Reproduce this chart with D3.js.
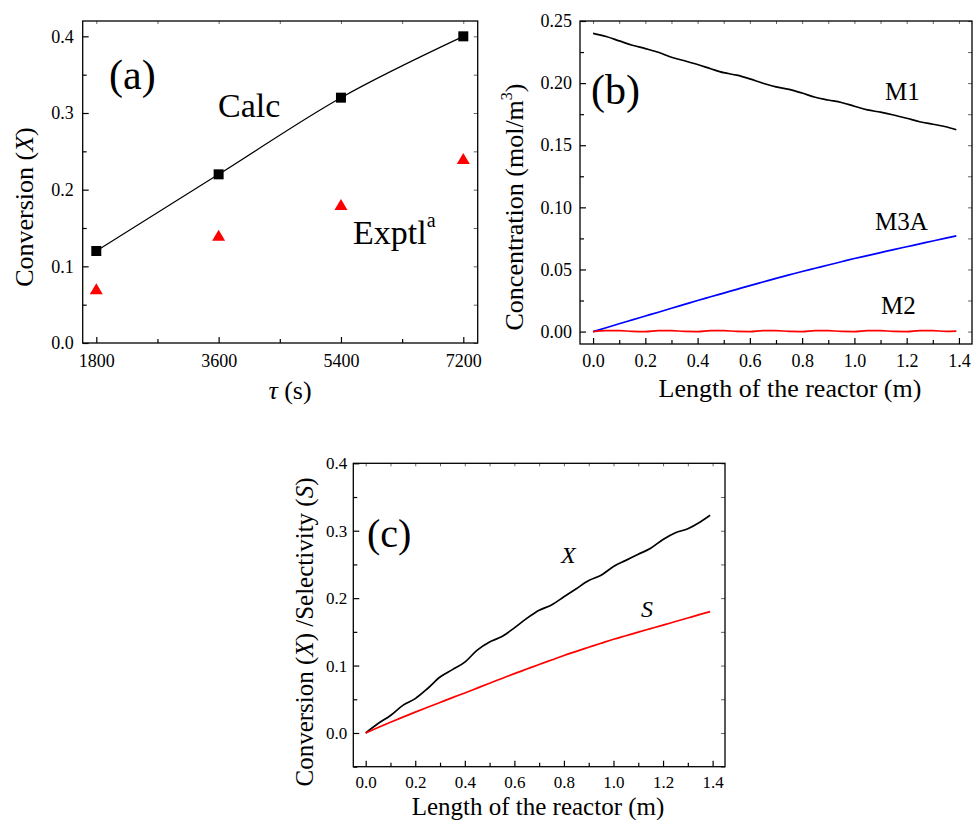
<!DOCTYPE html>
<html>
<head>
<meta charset="utf-8">
<script src="https://cdn.jsdelivr.net/npm/d3@7"></script>
<style>
  body { margin: 0; background: #fff; }
  svg { display: block; }
  text { font-family: "Liberation Serif", "Times New Roman", serif; fill: #000; }
</style>
</head>
<body>
<svg id="chart" width="974" height="820"></svg>
<script>
// ---------- Data ----------
// Panel (a)
const tauValues = [1800, 3600, 5400, 7200];
const calcConversion = [0.12, 0.22, 0.32, 0.40];
const exptlConversion = [0.07, 0.14, 0.18, 0.24];
const aXTicks = [1800, 3600, 5400, 7200];
const aXMinorTicks = [2700, 4500, 6300];
const aYTicks = [0.0, 0.1, 0.2, 0.3, 0.4];
const aYMinorTicks = [0.05, 0.15, 0.25, 0.35];

// Panel (b)
const bLength = [0, 0.05, 0.1, 0.15, 0.2, 0.25, 0.3, 0.35, 0.4, 0.45, 0.5, 0.55, 0.6, 0.65, 0.7, 0.75, 0.8, 0.85, 0.9, 0.95, 1.0, 1.05, 1.1, 1.15, 1.2, 1.25, 1.3, 1.35, 1.39];
const bM1 = [0.2400, 0.2375, 0.2340, 0.2305, 0.2278, 0.2248, 0.2208, 0.2180, 0.2150, 0.2116, 0.2084, 0.2064, 0.2034, 0.1999, 0.1970, 0.1950, 0.1920, 0.1886, 0.1864, 0.1844, 0.1814, 0.1784, 0.1766, 0.1743, 0.1717, 0.1689, 0.1669, 0.1649, 0.1625];
const bM3A = [0.0, 0.0031, 0.0063, 0.0094, 0.0125, 0.0156, 0.0188, 0.0219, 0.0250, 0.0280, 0.0310, 0.0340, 0.0370, 0.0399, 0.0428, 0.0456, 0.0484, 0.0510, 0.0536, 0.0562, 0.0588, 0.0612, 0.0636, 0.0660, 0.0683, 0.0706, 0.0729, 0.0752, 0.0770];
const bM2 = [0.0, 0.0008, 0.0008, 0.0002, 0.0, 0.0008, 0.0008, 0.0001, 0.0, 0.0008, 0.0008, 0.0001, 0.0, 0.0008, 0.0008, 0.0001, 0.0, 0.0008, 0.0008, 0.0001, 0.0, 0.0008, 0.0008, 0.0001, 0.0, 0.0008, 0.0008, 0.0001, 0.0004];
const bXTicks = [0.0, 0.2, 0.4, 0.6, 0.8, 1.0, 1.2, 1.4];
const bXMinorTicks = [0.1, 0.3, 0.5, 0.7, 0.9, 1.1, 1.3];
const bYTicks = [0.00, 0.05, 0.10, 0.15, 0.20, 0.25];
const bYMinorTicks = [0.025, 0.075, 0.125, 0.175, 0.225];

// Panel (c)
const cLength = [0, 0.05, 0.1, 0.15, 0.2, 0.25, 0.3, 0.35, 0.4, 0.45, 0.5, 0.55, 0.6, 0.65, 0.7, 0.75, 0.8, 0.85, 0.9, 0.95, 1.0, 1.05, 1.1, 1.15, 1.2, 1.25, 1.3, 1.35, 1.39];
const cConversionX = [0.0, 0.014, 0.026, 0.041, 0.051, 0.066, 0.083, 0.094, 0.105, 0.123, 0.135, 0.143, 0.156, 0.170, 0.182, 0.190, 0.202, 0.214, 0.226, 0.234, 0.247, 0.256, 0.265, 0.274, 0.287, 0.297, 0.303, 0.313, 0.323];
const cSelectivityS = [0.0, 0.0080, 0.0158, 0.0235, 0.0310, 0.0382, 0.0453, 0.0524, 0.0594, 0.0666, 0.0738, 0.0809, 0.0880, 0.0948, 0.1016, 0.1083, 0.1150, 0.1211, 0.1271, 0.1331, 0.1390, 0.1443, 0.1496, 0.1548, 0.1600, 0.1653, 0.1706, 0.1759, 0.1800];
const cXTicks = [0.0, 0.2, 0.4, 0.6, 0.8, 1.0, 1.2, 1.4];
const cXMinorTicks = [0.1, 0.3, 0.5, 0.7, 0.9, 1.1, 1.3];
const cYTicks = [0.0, 0.1, 0.2, 0.3, 0.4];
const cYMinorTicks = [-0.05, 0.05, 0.15, 0.25, 0.35];

// ---------- Drawing ----------
const svg = d3.select("#chart");

function drawFrame(p) {
  const g = svg.append("g");
  const x = d3.scaleLinear().domain(p.xDomain).range([p.left, p.right]);
  const y = d3.scaleLinear().domain(p.yDomain).range([p.bottom, p.top]);

  g.append("g").attr("transform", `translate(0,${p.bottom})`)
    .call(d3.axisBottom(x).tickValues(p.xTicks).tickFormat(p.xFormat)
      .tickSizeInner(-6).tickSizeOuter(0).tickPadding(p.xPad));
  g.append("g").attr("transform", `translate(0,${p.bottom})`)
    .call(d3.axisBottom(x).tickValues(p.xMinor).tickFormat("")
      .tickSizeInner(-4).tickSizeOuter(0));
  g.append("g").attr("transform", `translate(${p.left},0)`)
    .call(d3.axisLeft(y).tickValues(p.yTicks).tickFormat(p.yFormat)
      .tickSizeInner(-6).tickSizeOuter(0).tickPadding(p.yPad));
  g.append("g").attr("transform", `translate(${p.left},0)`)
    .call(d3.axisLeft(y).tickValues(p.yMinor).tickFormat("")
      .tickSizeInner(-4).tickSizeOuter(0));
  g.append("g").attr("class", "mirror").attr("transform", `translate(0,${p.top})`)
    .call(d3.axisTop(x).tickValues(p.xTicks.concat(p.xMinor)).tickFormat("")
      .tickSizeInner(-3).tickSizeOuter(0));
  g.append("g").attr("class", "mirror").attr("transform", `translate(${p.right},0)`)
    .call(d3.axisRight(y).tickValues(p.yTicks.concat(p.yMinor)).tickFormat("")
      .tickSizeInner(-4).tickSizeOuter(0));

  g.selectAll(".domain").remove();
  g.selectAll(".tick line").attr("stroke", "#000").attr("stroke-width", 1.2);
  g.selectAll(".mirror .tick line").attr("stroke", "#666").attr("stroke-width", 1);
  g.selectAll(".tick text").attr("font-family", "Liberation Serif").attr("font-size", p.tickFont).attr("fill", "#000");

  g.append("rect").attr("x", p.left).attr("y", p.top)
    .attr("width", p.right - p.left).attr("height", p.bottom - p.top)
    .attr("fill", "none").attr("stroke", "#000").attr("stroke-width", 1.3);
  return { g, x, y };
}

// ---- Panel (a)
const A = drawFrame({
  left: 82.7, right: 477.7, top: 21, bottom: 343,
  xDomain: [1600, 7412], yDomain: [0, 0.42],
  xTicks: aXTicks, xMinor: aXMinorTicks, yTicks: aYTicks, yMinor: aYMinorTicks,
  xFormat: d3.format("d"), yFormat: d3.format(".1f"),
  xPad: 11, yPad: 9, tickFont: 18
});
A.g.append("path").datum(tauValues.map((t, i) => [t, calcConversion[i]]))
  .attr("fill", "none").attr("stroke", "#000").attr("stroke-width", 1.2)
  .attr("d", d3.line().x(d => A.x(d[0])).y(d => A.y(d[1])).curve(d3.curveMonotoneX));
A.g.selectAll(".sq").data(tauValues.map((t, i) => [t, calcConversion[i]])).enter()
  .append("rect").attr("x", d => A.x(d[0]) - 5).attr("y", d => A.y(d[1]) - 5)
  .attr("width", 10).attr("height", 10).attr("fill", "#000");
A.g.selectAll(".tri").data(tauValues.map((t, i) => [t, exptlConversion[i]])).enter()
  .append("path")
  .attr("transform", d => `translate(${A.x(d[0])},${A.y(d[1])})`)
  .attr("d", "M0,-6 L6.5,5 L-6.5,5 Z").attr("fill", "#ff0000");
A.g.append("text").attr("x", 109).attr("y", 89).attr("font-size", 42).text("(a)");
A.g.append("text").attr("x", 218).attr("y", 117).attr("font-size", 34).text("Calc");
const ex = A.g.append("text").attr("x", 353).attr("y", 244).attr("font-size", 34);
ex.append("tspan").text("Exptl");
ex.append("tspan").attr("font-size", 20).attr("dy", -17).text("a");
const aYT = A.g.append("text").attr("transform", "translate(33,207) rotate(-90)")
  .attr("text-anchor", "middle").attr("font-size", 26);
aYT.append("tspan").text("Conversion (");
aYT.append("tspan").attr("font-style", "italic").text("X");
aYT.append("tspan").text(")");
const aXT = A.g.append("text").attr("x", 290).attr("y", 399)
  .attr("text-anchor", "middle").attr("font-size", 26);
aXT.append("tspan").attr("font-style", "italic").text("τ");
aXT.append("tspan").text(" (s)");

// ---- Panel (b)
const B = drawFrame({
  left: 580, right: 972, top: 21, bottom: 344,
  xDomain: [-0.05, 1.45], yDomain: [-0.01, 0.25],
  xTicks: bXTicks, xMinor: bXMinorTicks, yTicks: bYTicks, yMinor: bYMinorTicks,
  xFormat: d3.format(".1f"), yFormat: d3.format(".2f"),
  xPad: 10, yPad: 8, tickFont: 18
});
const bLine = d3.line().x(d => B.x(d[0])).y(d => B.y(d[1])).curve(d3.curveMonotoneX);
[[bM1, "#000"], [bM3A, "#0000ff"], [bM2, "#ff0000"]].forEach(([vals, col]) => {
  B.g.append("path").datum(bLength.map((l, i) => [l, vals[i]]))
    .attr("fill", "none").attr("stroke", col).attr("stroke-width", 1.7).attr("d", bLine);
});
B.g.append("text").attr("x", 591).attr("y", 104).attr("font-size", 42).text("(b)");
B.g.append("text").attr("x", 885).attr("y", 100).attr("font-size", 25).text("M1");
B.g.append("text").attr("x", 875).attr("y", 230).attr("font-size", 25).text("M3A");
B.g.append("text").attr("x", 881).attr("y", 314).attr("font-size", 25).text("M2");
const bYT = B.g.append("text").attr("transform", "translate(523,207) rotate(-90)")
  .attr("text-anchor", "middle").attr("font-size", 26);
bYT.append("tspan").text("Concentration (mol/m");
bYT.append("tspan").attr("font-size", 16).attr("dy", -11).text("3");
bYT.append("tspan").attr("dy", 11).text(")");
B.g.append("text").attr("x", 790).attr("y", 397).attr("text-anchor", "middle")
  .attr("font-size", 26).text("Length of the reactor (m)");

// ---- Panel (c)
const C = drawFrame({
  left: 353.3, right: 725, top: 463.3, bottom: 766.7,
  xDomain: [-0.05, 1.45], yDomain: [-0.05, 0.4],
  xTicks: cXTicks, xMinor: cXMinorTicks, yTicks: cYTicks, yMinor: cYMinorTicks,
  xFormat: d3.format(".1f"), yFormat: d3.format(".1f"),
  xPad: 9, yPad: 6, tickFont: 17
});
const cLine = d3.line().x(d => C.x(d[0])).y(d => C.y(d[1])).curve(d3.curveMonotoneX);
[[cConversionX, "#000"], [cSelectivityS, "#ff0000"]].forEach(([vals, col]) => {
  C.g.append("path").datum(cLength.map((l, i) => [l, vals[i]]))
    .attr("fill", "none").attr("stroke", col).attr("stroke-width", 1.7).attr("d", cLine);
});
C.g.append("text").attr("x", 367).attr("y", 547).attr("font-size", 40).text("(c)");
C.g.append("text").attr("x", 561).attr("y", 563).attr("font-size", 24).attr("font-style", "italic").text("X");
C.g.append("text").attr("x", 641).attr("y", 617).attr("font-size", 24).attr("font-style", "italic").text("S");
const cYT = C.g.append("text").attr("transform", "translate(313,632) rotate(-90)")
  .attr("text-anchor", "middle").attr("font-size", 25);
cYT.append("tspan").text("Conversion (");
cYT.append("tspan").attr("font-style", "italic").text("X");
cYT.append("tspan").text(") /Selectivity (");
cYT.append("tspan").attr("font-style", "italic").text("S");
cYT.append("tspan").text(")");
C.g.append("text").attr("x", 538).attr("y", 815).attr("text-anchor", "middle")
  .attr("font-size", 25).text("Length of the reactor (m)");
</script>
</body>
</html>
